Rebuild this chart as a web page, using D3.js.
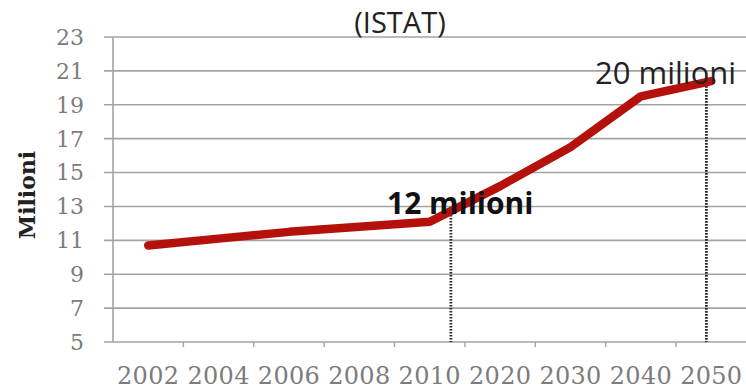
<!DOCTYPE html>
<html>
<head>
<meta charset="utf-8">
<script src="https://cdn.jsdelivr.net/npm/d3@7/dist/d3.min.js"></script>
<style>
  html, body { margin: 0; padding: 0; background: #fff; }
  svg { display: block; }
</style>
</head>
<body>
<svg id="chart" width="746" height="389"></svg>
<script>
// Population series (millions), ISTAT estimates and projections
const years = ["2002", "2004", "2006", "2008", "2010", "2020", "2030", "2040", "2050"];
const values = [10.7, 11.1, 11.5, 11.8, 12.1, 14.2, 16.5, 19.5, 20.4];
const yTicks = [5, 7, 9, 11, 13, 15, 17, 19, 21, 23];
const titleText = "(ISTAT)";
const yAxisTitle = "Milioni";
const calloutLow = "12 milioni";
const calloutHigh = "20 milioni";

const svg = d3.select("#chart");
const W = 746;

const x = d3.scaleBand().domain(years).range([113, W + 0.5]).padding(0);
const y = d3.scaleLinear().domain([5, 23]).range([342, 37]);

const grid = "#a3a3a3";
const labelGray = "#7c7c7c";

// horizontal gridlines
svg.append("g")
  .selectAll("line")
  .data(yTicks)
  .join("line")
  .attr("x1", 104)
  .attr("x2", W)
  .attr("y1", d => y(d))
  .attr("y2", d => y(d))
  .attr("stroke", grid)
  .attr("stroke-width", 1.6);

// vertical axis line
svg.append("line")
  .attr("x1", 113).attr("x2", 113)
  .attr("y1", y(23)).attr("y2", y(5))
  .attr("stroke", grid).attr("stroke-width", 1.6);

// y tick labels
svg.append("g")
  .selectAll("text")
  .data(yTicks)
  .join("text")
  .attr("x", 84)
  .attr("y", d => y(d))
  .attr("dy", "0.36em")
  .attr("text-anchor", "end")
  .attr("font-family", "DejaVu Serif")
  .attr("font-size", 22)
  .attr("fill", labelGray)
  .text(d => d);

// x axis with ticks on category boundaries
const xAxis = d3.axisBottom(x).tickSize(0).tickPadding(25);
const gx = svg.append("g")
  .attr("transform", `translate(0,${y(5)})`)
  .call(xAxis);
gx.select(".domain").remove();
gx.selectAll("text")
  .attr("font-family", "DejaVu Serif")
  .attr("font-size", 24)
  .attr("letter-spacing", 0.3)
  .attr("fill", labelGray);

svg.append("g")
  .selectAll("line")
  .data(years.slice(1))
  .join("line")
  .attr("x1", d => x(d))
  .attr("x2", d => x(d))
  .attr("y1", y(5))
  .attr("y2", y(5) + 5)
  .attr("stroke", grid)
  .attr("stroke-width", 1.4);

// y axis title
svg.append("text")
  .attr("transform", `translate(35,195) rotate(-90)`)
  .attr("text-anchor", "middle")
  .attr("font-family", "DejaVu Serif")
  .attr("font-weight", "bold")
  .attr("font-size", 22)
  .attr("fill", "#222")
  .text(yAxisTitle);

// chart title
svg.append("text")
  .attr("x", 400)
  .attr("y", 33)
  .attr("text-anchor", "middle")
  .attr("font-family", "Open Sans")
  .attr("font-size", 29)
  .attr("fill", "#222")
  .text(titleText);

// dotted drop lines from the series down to the axis
const cx = d => x(d) + x.bandwidth() / 2;
function dropAt(i, frac) {
  const xa = cx(years[i]), xb = cx(years[i + 1]);
  const px = xa + (xb - xa) * frac;
  const v = values[i] + (values[i + 1] - values[i]) * frac;
  return { px, top: y(v) + 4 };
}
const drops = [dropAt(4, 0.3), dropAt(7, 0.93)];
svg.append("g")
  .selectAll("line")
  .data(drops)
  .join("line")
  .attr("x1", d => d.px).attr("x2", d => d.px)
  .attr("y1", d => d.top).attr("y2", y(5))
  .attr("stroke", "#2a2a2a")
  .attr("stroke-width", 2.8)
  .attr("stroke-dasharray", "1.6,1.4");

// series line
const line = d3.line()
  .x((d, i) => cx(years[i]))
  .y(d => y(d))
  .curve(d3.curveLinear);

svg.append("path")
  .datum(values)
  .attr("d", line)
  .attr("fill", "none")
  .attr("stroke", "#b5110c")
  .attr("stroke-width", 8.5)
  .attr("stroke-linecap", "round")
  .attr("stroke-linejoin", "round");

// callout labels
svg.append("text")
  .attr("x", 387)
  .attr("y", 214)
  .attr("font-family", "Open Sans")
  .attr("font-weight", "bold")
  .attr("font-size", 30)
  .attr("fill", "#111")
  .text(calloutLow);

svg.append("text")
  .attr("x", 595)
  .attr("y", 84)
  .attr("font-family", "Open Sans")
  .attr("font-size", 31)
  .attr("fill", "#222")
  .text(calloutHigh);
</script>
</body>
</html>
